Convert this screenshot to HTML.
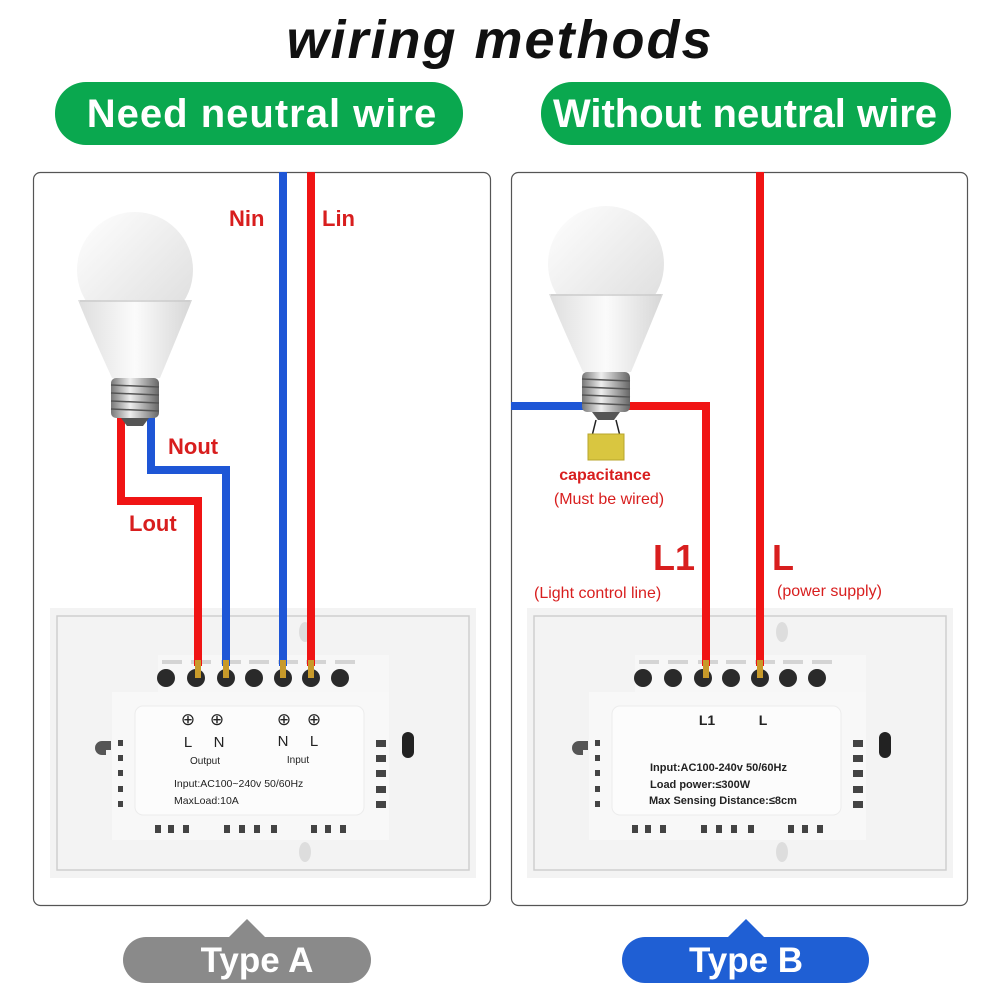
<!DOCTYPE html>
<html><head><meta charset="utf-8"><style>
html,body{margin:0;padding:0;background:#fff}
svg{display:block}
text{font-family:"Liberation Sans","DejaVu Sans",sans-serif}
</style></head><body>
<svg width="1000" height="1000" viewBox="0 0 1000 1000" xmlns="http://www.w3.org/2000/svg">
<defs>
<linearGradient id="glob" x1="0" y1="0" x2="1" y2="1"><stop offset="0" stop-color="#ffffff"/><stop offset="1" stop-color="#dcdcdc"/></linearGradient>
<linearGradient id="body" x1="0" y1="0" x2="1" y2="0"><stop offset="0" stop-color="#dedede"/><stop offset="0.5" stop-color="#fbfbfb"/><stop offset="1" stop-color="#d6d6d6"/></linearGradient>
<linearGradient id="base" x1="0" y1="0" x2="1" y2="0"><stop offset="0" stop-color="#777"/><stop offset="0.4" stop-color="#eee"/><stop offset="1" stop-color="#666"/></linearGradient>
<g id="bulb">
<circle cx="0" cy="0" r="58" fill="url(#glob)"/>
<path d="M-57 30 L57 30 Q45 60 25 108 L-23 108 Q-45 60 -57 30Z" fill="url(#body)"/>
<line x1="-55" y1="31" x2="55" y2="31" stroke="#ccc" stroke-width="1.5"/>
<rect x="-24" y="108" width="48" height="40" rx="5" fill="url(#base)"/>
<g stroke="#555" stroke-width="1.5"><line x1="-24" y1="115" x2="24" y2="117"/><line x1="-24" y1="123" x2="24" y2="125"/><line x1="-24" y1="131" x2="24" y2="133"/><line x1="-24" y1="139" x2="24" y2="141"/></g>
<path d="M-14 148 L14 148 L8 156 L-8 156Z" fill="#555"/>
</g>
<g id="plate">
<rect x="0" y="0" width="426" height="270" fill="#f3f3f3"/>
<rect x="7" y="8" width="412" height="254" fill="none" stroke="#cfcfcf" stroke-width="1.5"/>
<rect x="108" y="47" width="231" height="40" fill="#f7f7f7"/>
<rect x="62" y="84" width="277" height="148" fill="#f8f8f8"/>
<rect x="85" y="98" width="229" height="109" rx="8" fill="#fcfcfc" stroke="#ececec"/>
<ellipse cx="255" cy="24" rx="6" ry="10" fill="#ddd"/>
<ellipse cx="255" cy="244" rx="6" ry="10" fill="#ddd"/>
<g fill="#d4d4d4"><rect x="112" y="52" width="20" height="4"/><rect x="141" y="52" width="20" height="4"/><rect x="171" y="52" width="20" height="4"/><rect x="199" y="52" width="20" height="4"/><rect x="228" y="52" width="20" height="4"/><rect x="256" y="52" width="20" height="4"/><rect x="285" y="52" width="20" height="4"/></g>
<g fill="#2a2a2a"><circle cx="116" cy="70" r="9"/><circle cx="146" cy="70" r="9"/><circle cx="176" cy="70" r="9"/><circle cx="204" cy="70" r="9"/><circle cx="233" cy="70" r="9"/><circle cx="261" cy="70" r="9"/><circle cx="290" cy="70" r="9"/></g>
<g fill="#444"><rect x="68" y="132" width="5" height="6"/><rect x="68" y="147" width="5" height="6"/><rect x="68" y="162" width="5" height="6"/><rect x="68" y="178" width="5" height="6"/><rect x="68" y="193" width="5" height="6"/>
<rect x="326" y="132" width="10" height="7"/><rect x="326" y="147" width="10" height="7"/><rect x="326" y="162" width="10" height="7"/><rect x="326" y="178" width="10" height="7"/><rect x="326" y="193" width="10" height="7"/>
<rect x="105" y="217" width="6" height="8"/><rect x="118" y="217" width="6" height="8"/><rect x="133" y="217" width="6" height="8"/><rect x="174" y="217" width="6" height="8"/><rect x="189" y="217" width="6" height="8"/><rect x="204" y="217" width="6" height="8"/><rect x="221" y="217" width="6" height="8"/><rect x="261" y="217" width="6" height="8"/><rect x="275" y="217" width="6" height="8"/><rect x="290" y="217" width="6" height="8"/></g>
<rect x="352" y="124" width="12" height="26" rx="6" fill="#222"/>
<path d="M45 140 a7 7 0 0 1 7 -7 h9 v9 h-5 v5 h-4 a7 7 0 0 1 -7 -7z" fill="#555"/>
</g>
</defs>

<text x="500" y="58" text-anchor="middle" font-size="54" font-weight="bold" font-style="italic" letter-spacing="2" fill="#111">wiring methods</text>
<rect x="55" y="82" width="408" height="63" rx="31" fill="#0aa84f"/>
<text x="262" y="127" text-anchor="middle" font-size="40" font-weight="bold" letter-spacing="1" fill="#fff">Need neutral wire</text>
<rect x="541" y="82" width="410" height="63" rx="31" fill="#0aa84f"/>
<text x="745" y="127" text-anchor="middle" font-size="40" font-weight="bold" fill="#fff">Without neutral wire</text>

<rect x="33.5" y="172.5" width="457" height="733" rx="7" fill="#fff" stroke="#555" stroke-width="1.2"/>
<rect x="511.5" y="172.5" width="456" height="733" rx="7" fill="#fff" stroke="#555" stroke-width="1.2"/>

<!-- left -->
<use href="#plate" x="50" y="608"/>
<g fill="none" stroke-width="8" stroke-linejoin="miter">
<path d="M121 415 V501 H198 V666" stroke="#f01414"/>
<path d="M151 415 V470 H226 V666" stroke="#1e56d6"/>
<path d="M283 172 V666" stroke="#1e56d6"/>
<path d="M311 172 V666" stroke="#f01414"/>
</g>
<g fill="#c89a2a"><rect x="195" y="660" width="6" height="18"/><rect x="223" y="660" width="6" height="18"/><rect x="280" y="660" width="6" height="18"/><rect x="308" y="660" width="6" height="18"/></g>
<use href="#bulb" x="135" y="270"/>
<text x="229" y="226" font-size="22" font-weight="bold" fill="#d81e1e">Nin</text>
<text x="322" y="226" font-size="22" font-weight="bold" fill="#d81e1e">Lin</text>
<text x="168" y="454" font-size="22" font-weight="bold" fill="#d81e1e">Nout</text>
<text x="129" y="531" font-size="22" font-weight="bold" fill="#d81e1e">Lout</text>
<g font-size="15" fill="#222" text-anchor="middle">
<text x="188" y="725" font-size="17">⊕</text><text x="217" y="725" font-size="17">⊕</text><text x="284" y="725" font-size="17">⊕</text><text x="314" y="725" font-size="17">⊕</text>
<text x="188" y="747">L</text><text x="219" y="747">N</text><text x="283" y="746">N</text><text x="314" y="746">L</text>
<text x="205" y="764" font-size="10">Output</text><text x="298" y="763" font-size="10">Input</text>
</g>
<text x="174" y="787" font-size="10.5" fill="#222">Input:AC100~240v  50/60Hz</text>
<text x="174" y="804" font-size="10.5" fill="#222">MaxLoad:10A</text>

<!-- right -->
<use href="#plate" x="527" y="608"/>
<g fill="none" stroke-width="8">
<path d="M511 406 H590" stroke="#1e56d6"/>
<path d="M625 406 H706 V666" stroke="#f01414"/>
<path d="M760 172 V666" stroke="#f01414"/>
</g>
<g fill="#c89a2a"><rect x="703" y="660" width="6" height="18"/><rect x="757" y="660" width="6" height="18"/></g>
<use href="#bulb" x="606" y="264"/>
<path d="M596 420 L592 436 M616 420 L620 436" stroke="#222" stroke-width="1.5"/>
<rect x="588" y="434" width="36" height="26" fill="#d9c640" stroke="#b8a52c"/>
<text x="605" y="480" text-anchor="middle" font-size="16" font-weight="bold" fill="#d81e1e">capacitance</text>
<text x="609" y="504" text-anchor="middle" font-size="16" fill="#d81e1e">(Must be wired)</text>
<text x="653" y="570" font-size="36" font-weight="bold" fill="#d81e1e">L1</text>
<text x="772" y="570" font-size="36" font-weight="bold" fill="#d81e1e">L</text>
<text x="534" y="598" font-size="16" fill="#d81e1e">(Light control line)</text>
<text x="777" y="596" font-size="16" fill="#d81e1e">(power supply)</text>
<text x="707" y="725" text-anchor="middle" font-size="14" font-weight="bold" fill="#222">L1</text>
<text x="763" y="725" text-anchor="middle" font-size="14" font-weight="bold" fill="#222">L</text>
<text x="650" y="771" font-size="11" font-weight="bold" fill="#222">Input:AC100-240v  50/60Hz</text>
<text x="650" y="788" font-size="11" font-weight="bold" fill="#222">Load power:≤300W</text>
<text x="649" y="804" font-size="11" font-weight="bold" fill="#222">Max Sensing Distance:≤8cm</text>

<!-- type labels -->
<path d="M229 937 L247 919 L265 937Z" fill="#8a8a8a"/>
<rect x="123" y="937" width="248" height="46" rx="23" fill="#8a8a8a"/>
<text x="257" y="972" text-anchor="middle" font-size="35" font-weight="bold" fill="#fff">Type A</text>
<path d="M728 937 L746 919 L764 937Z" fill="#1f5fd4"/>
<rect x="622" y="937" width="247" height="46" rx="23" fill="#1f5fd4"/>
<text x="746" y="972" text-anchor="middle" font-size="35" font-weight="bold" fill="#fff">Type B</text>
</svg>
</body></html>
